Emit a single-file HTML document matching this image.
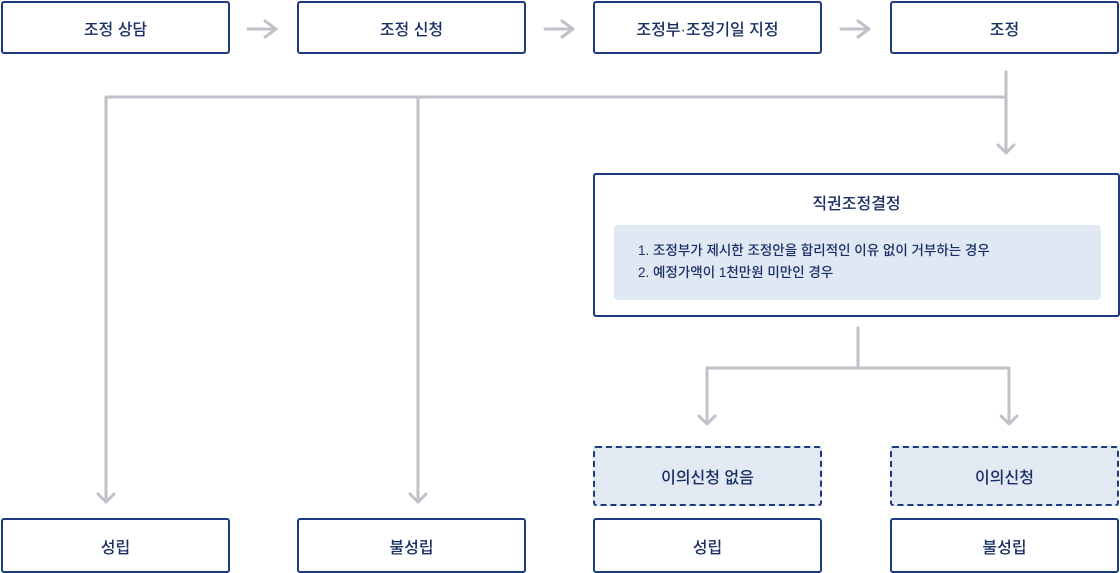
<!DOCTYPE html><html><head><meta charset="utf-8"><style>
body{margin:0;width:1120px;height:573px;background:#fff;position:relative;font-family:"Liberation Sans","Noto Sans CJK KR",sans-serif;color:#1a2f66;overflow:hidden}
.b{position:absolute;box-sizing:border-box;border:2px solid #1b3a80;border-radius:3px;display:flex;align-items:center;justify-content:center;font-size:16px;font-weight:500;background:#fff}
.d{border:2px dashed #1b3a80;background:#e3e9f2}
svg{position:absolute;left:0;top:0}
</style></head><body>
<svg width="1120" height="573" fill="none" stroke="#c1c1c9" stroke-width="3">
<g stroke-linecap="round" stroke-linejoin="round">
<path d="M248 29H276M265 21L276 29L265 37"/>
<path d="M545 29H573M562 21L573 29L562 37"/>
<path d="M841 29H869M858 21L869 29L858 37"/>
<path d="M1006 72V97H106V502M98 494L106 502L114 494"/>
<path d="M418 97V502M410 494L418 502L426 494"/>
<path d="M1006 97V153M998 145L1006 153L1014 145"/>
<path d="M858 328V368H707V424M699 416L707 424L715 416"/>
<path d="M858 368H1009V424M1001 416L1009 424L1017 416"/>
</g></svg>
<div class="b" style="left:1px;top:1px;width:229px;height:53px">조정 상담</div>
<div class="b" style="left:297px;top:1px;width:229px;height:53px">조정 신청</div>
<div class="b" style="left:593px;top:1px;width:229px;height:53px">조정부·조정기일 지정</div>
<div class="b" style="left:890px;top:1px;width:229px;height:53px">조정</div>
<div class="b" style="left:593px;top:173px;width:527px;height:144px;display:block">
<div style="text-align:center;margin-top:15px;font-size:16px">직권조정결정</div>
<div style="position:absolute;left:19px;top:50px;width:487px;height:75px;background:#e0e8f4;border-radius:4px;font-size:13.5px;line-height:22px;padding:15px 0 0 24px;box-sizing:border-box">1. 조정부가 제시한 조정안을 합리적인 이유 없이 거부하는 경우<br>2. 예정가액이 1천만원 미만인 경우</div></div>
<div class="b d" style="left:593px;top:446px;width:229px;height:60px">이의신청 없음</div>
<div class="b d" style="left:890px;top:446px;width:229px;height:60px">이의신청</div>
<div class="b" style="left:1px;top:518px;width:229px;height:55px">성립</div>
<div class="b" style="left:297px;top:518px;width:229px;height:55px">불성립</div>
<div class="b" style="left:593px;top:518px;width:229px;height:55px">성립</div>
<div class="b" style="left:890px;top:518px;width:229px;height:55px">불성립</div>
</body></html>
